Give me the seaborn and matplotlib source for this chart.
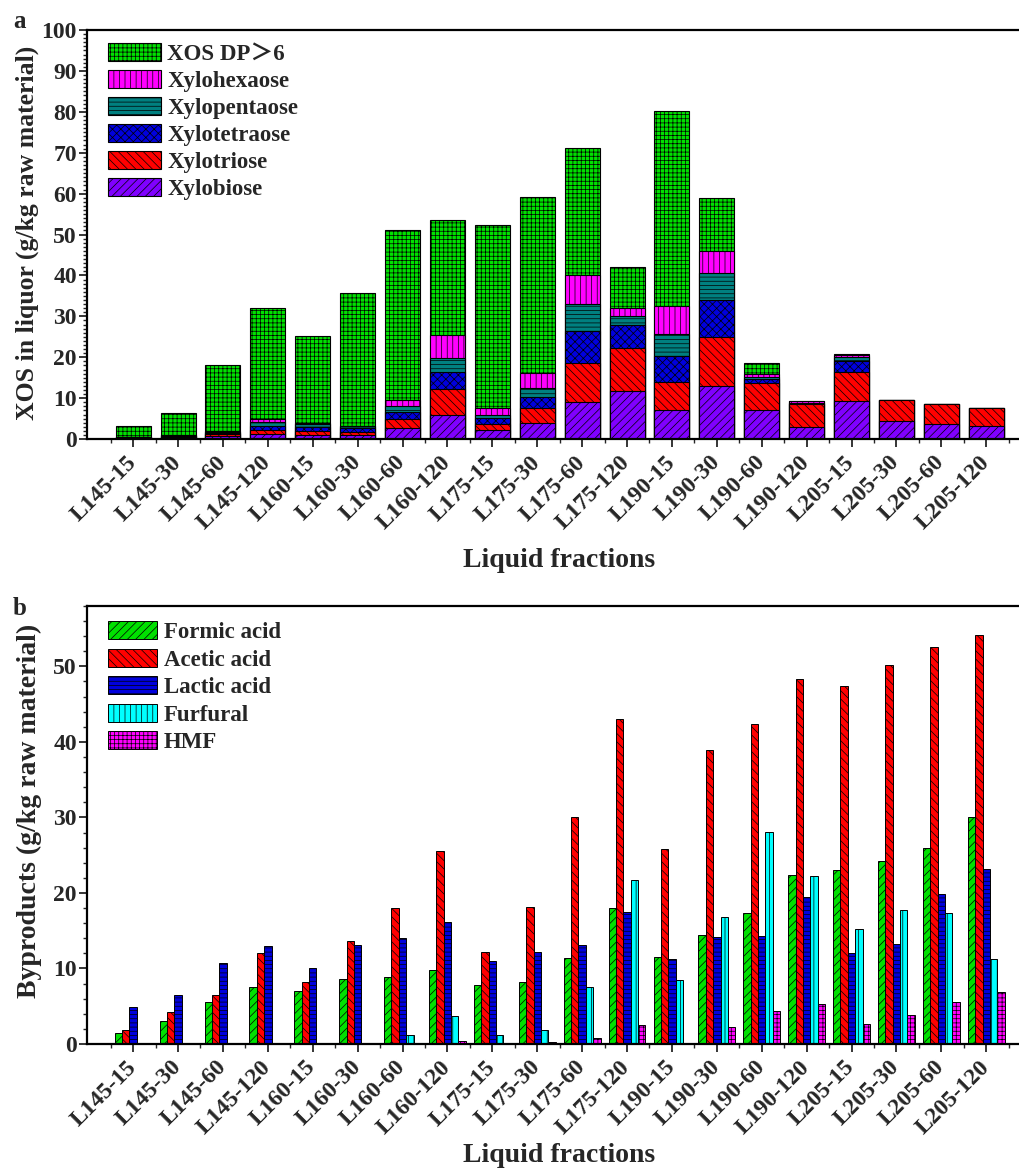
import matplotlib
matplotlib.use("Agg")
import matplotlib.pyplot as plt
from matplotlib.ticker import MultipleLocator
import numpy as np
import pandas as pd
import seaborn as sns

# liquid fractions (temperature - time)
fractions = [
    "L145-15", "L145-30", "L145-60", "L145-120",
    "L160-15", "L160-30", "L160-60", "L160-120",
    "L175-15", "L175-30", "L175-60", "L175-120",
    "L190-15", "L190-30", "L190-60", "L190-120",
    "L205-15", "L205-30", "L205-60", "L205-120",
]

# panel a: XOS composition, g/kg raw material
xylobiose = [0.3, 0.6, 0.8, 1.3, 1.0, 1.1, 2.8, 5.9, 2.3, 3.9,
             9.1, 11.8, 7.0, 13.0, 7.0, 2.9, 9.3, 4.5, 3.8, 3.3]
xylotriose = [0.1, 0.15, 0.4, 1.0, 1.0, 0.7, 2.1, 6.3, 1.5, 3.6,
              9.6, 10.4, 7.0, 11.9, 6.7, 5.7, 7.2, 5.0, 4.7, 4.2]
xylotetraose = [0.1, 0.1, 0.3, 1.0, 0.9, 0.8, 1.8, 4.3, 1.4, 2.8,
                7.6, 5.8, 6.3, 9.0, 1.0, 0.15, 2.7, 0.0, 0.0, 0.0]
xylopentaose = [0.05, 0.1, 0.3, 0.8, 0.9, 0.5, 1.3, 3.4, 0.8, 2.1,
                6.7, 2.0, 5.5, 6.6, 0.5, 0.1, 0.8, 0.0, 0.0, 0.0]
xylohexaose = [0.05, 0.05, 0.1, 0.8, 0.2, 0.2, 1.6, 5.6, 1.7, 3.8,
               7.2, 2.1, 6.7, 5.5, 0.8, 0.4, 0.5, 0.0, 0.0, 0.0]
xos_dp6 = [2.6, 5.4, 16.3, 27.1, 21.3, 32.5, 41.5, 28.1, 44.7, 42.9,
           30.9, 9.9, 47.8, 12.9, 2.7, 0.1, 0.3, 0.0, 0.0, 0.0]

# panel b: byproducts, g/kg raw material
formic = [1.4, 3.1, 5.6, 7.5, 7.0, 8.6, 8.9, 9.8, 7.8, 8.2,
          11.4, 18.0, 11.5, 14.4, 17.4, 22.4, 23.0, 24.2, 25.9, 30.1]
acetic = [1.9, 4.2, 6.5, 12.0, 8.2, 13.6, 18.0, 25.5, 12.2, 18.2,
          30.1, 43.0, 25.8, 38.9, 42.4, 48.3, 47.4, 50.2, 52.5, 54.1]
lactic = [4.9, 6.5, 10.7, 13.0, 10.1, 13.1, 14.0, 16.2, 11.0, 12.2,
          13.1, 17.5, 11.3, 14.1, 14.3, 19.4, 12.1, 13.3, 19.8, 23.2]
furfural = [0.0, 0.0, 0.0, 0.0, 0.0, 0.0, 1.2, 3.7, 1.2, 1.9,
            7.5, 21.7, 8.5, 16.8, 28.1, 22.2, 15.2, 17.8, 17.3, 11.3]
hmf = [0.0, 0.0, 0.0, 0.0, 0.0, 0.0, 0.1, 0.4, 0.0, 0.2,
       0.8, 2.5, 0.0, 2.2, 4.3, 5.3, 2.6, 3.9, 5.6, 6.9]

xos_names = ["Xylobiose", "Xylotriose", "Xylotetraose", "Xylopentaose",
             "Xylohexaose", "XOS DP＞6"]
xos_colors = ["#8000ff", "#ff0000", "#0000dd", "#008080", "#ff00ff", "#00e000"]
xos_hatches = ["////", "\\\\\\\\", "xxxx", "----", "|||", "++++"]

by_names = ["Formic acid", "Acetic acid", "Lactic acid", "Furfural", "HMF"]
by_colors = ["#00e000", "#ff0000", "#0000dd", "#00ffff", "#ff00ff"]
by_hatches = ["////", "\\\\\\\\", "----", "|||", "++++"]

sns.set_theme(style="ticks")
plt.rcParams["font.family"] = ["Liberation Serif", "Noto Sans CJK SC"]
plt.rcParams["font.weight"] = "bold"
plt.rcParams["axes.labelweight"] = "bold"
plt.rcParams["hatch.linewidth"] = 0.5
plt.rcParams["hatch.color"] = "#1a1a1a"

fig = plt.figure(figsize=(10.19, 11.68), dpi=100)
ax_a = fig.add_axes([0.0857, 0.6241, 0.9143, 0.3502])
ax_b = fig.add_axes([0.0857, 0.1062, 0.9143, 0.3750])

# stacked bars: draw cumulative totals from the top layer down
layers = [xylobiose, xylotriose, xylotetraose, xylopentaose, xylohexaose, xos_dp6]
tops = np.cumsum(np.array(layers), axis=0)
xos_handles = {}
for name, top, color, hatch in reversed(list(zip(xos_names, tops, xos_colors, xos_hatches))):
    sns.barplot(x=fractions, y=top, color=color, saturation=1, width=0.78,
                edgecolor="black", linewidth=0.8, ax=ax_a)
    cont = ax_a.containers[-1]
    for p in cont.patches:
        p.set_hatch(hatch)
    xos_handles[name] = cont.patches[0]

byproducts = pd.DataFrame({
    "fraction": fractions * 5,
    "compound": np.repeat(by_names, len(fractions)),
    "value": formic + acetic + lactic + furfural + hmf,
})
sns.barplot(data=byproducts, x="fraction", y="value", hue="compound",
            hue_order=by_names, palette=by_colors, saturation=1, width=0.82,
            edgecolor="black", linewidth=0.7, errorbar=None, legend=False, ax=ax_b)
by_handles = []
for cont, hatch in zip(ax_b.containers, by_hatches):
    for p in cont.patches:
        p.set_hatch(hatch)
    by_handles.append(cont.patches[0])

for ax, ymax, minor in ((ax_a, 100, 1), (ax_b, 58, 2)):
    ax.set_xlim(-1.02, 19.73)
    ax.set_ylim(0, ymax)
    ax.set_xticks(range(len(fractions)))
    ax.set_xticklabels(fractions, rotation=45, ha="right", va="center",
                       rotation_mode="anchor", fontsize=17)
    ax.set_xticks(np.arange(-0.5, len(fractions), 1), minor=True)
    ax.yaxis.set_major_locator(MultipleLocator(10))
    ax.yaxis.set_minor_locator(MultipleLocator(minor))
    ax.tick_params(axis="y", which="major", direction="out", length=5.5,
                   width=1.3, labelsize=17, pad=2)
    ax.tick_params(axis="x", which="major", direction="out", length=5.5,
                   width=1.3, pad=9)
    ax.tick_params(which="minor", direction="out", length=3.2, width=1.0)
    ax.spines["right"].set_visible(False)
    for side in ("left", "top", "bottom"):
        ax.spines[side].set_linewidth(1.6)
        ax.spines[side].set_color("black")
    ax.set_xlabel("Liquid fractions", fontsize=20)

ax_a.set_ylabel("XOS in liquor (g/kg raw material)", fontsize=18.5)
ax_b.set_ylabel("Byproducts (g/kg raw material)", fontsize=20)
ax_a.yaxis.set_label_coords(-0.052, 0.505)
ax_b.yaxis.set_label_coords(-0.049, 0.533)
ax_a.xaxis.set_label_coords(0.506, -0.266)
ax_b.xaxis.set_label_coords(0.506, -0.227)

legend_order = ["XOS DP＞6", "Xylohexaose", "Xylopentaose", "Xylotetraose",
                "Xylotriose", "Xylobiose"]
ax_a.legend([xos_handles[n] for n in legend_order], legend_order,
            loc="upper left", bbox_to_anchor=(0.022, 0.968), frameon=False,
            fontsize=16.5, handlelength=2.3, handleheight=0.84,
            handletextpad=0.3, labelspacing=0.22, borderpad=0, borderaxespad=0)
ax_b.legend(by_handles, by_names,
            loc="upper left", bbox_to_anchor=(0.022, 0.965), frameon=False,
            fontsize=16.5, handlelength=2.15, handleheight=0.84,
            handletextpad=0.3, labelspacing=0.24, borderpad=0, borderaxespad=0)

fig.text(13 / 1019, 1 - 28 / 1168, "a", fontsize=18, fontweight="bold", va="baseline")
fig.text(13 / 1019, 1 - 615 / 1168, "b", fontsize=18, fontweight="bold", va="baseline")

fig.savefig("out.png", dpi=100)
